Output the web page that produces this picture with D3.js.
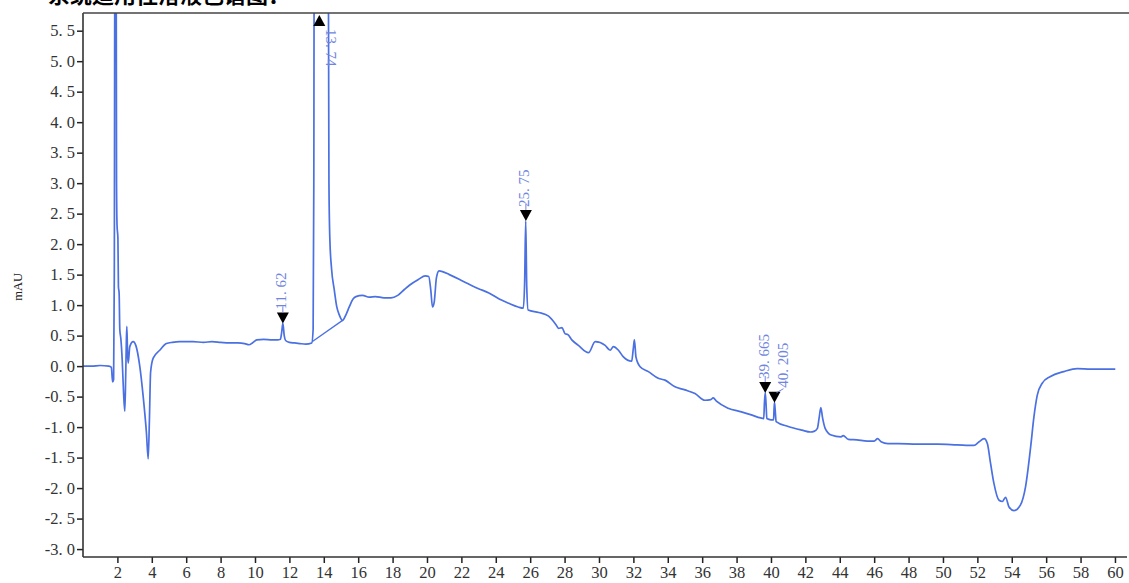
<!DOCTYPE html>
<html>
<head>
<meta charset="utf-8">
<script src="https://cdn.jsdelivr.net/npm/d3@7/dist/d3.min.js"></script>
<style>
html,body{margin:0;padding:0;background:#fff;}
svg{display:block;}
</style>
</head>
<body>
<div id="chart"></div>
<script>
// ---- data ----
const rt = [0,0.5,1.0,1.5,1.65,1.72,1.78,1.82,1.86,1.92,1.95,1.98,2.03,2.06,2.1,2.14,2.2,2.28,2.36,2.43,2.48,2.52,2.55,2.59,2.63,2.72,2.92,3.07,3.30,3.50,3.69,3.79,3.86,3.93,4.08,4.46,4.85,5.2,5.62,6.4,7.0,7.5,8.0,8.5,9.0,9.4,9.65,9.85,10.1,10.5,11.0,11.3,11.48,11.55,11.62,11.70,11.78,12.0,12.3,12.6,12.95,13.3,13.38,13.42,13.45,14.25,14.30,14.35,14.45,14.61,14.75,14.9,15.09,15.3,15.48,15.7,15.87,16.25,16.64,17.0,17.5,17.9,18.3,18.7,19.0,19.5,19.9,20.1,20.22,20.32,20.42,20.55,20.7,20.9,21.3,21.9,22.4,23.0,23.6,24.2,24.75,25.3,25.6,25.68,25.74,25.80,25.88,26.5,27.07,27.5,27.65,27.85,28.03,28.18,28.42,28.8,29.39,29.78,30.36,30.65,30.84,31.13,31.42,31.9,32.0,32.06,32.15,32.39,32.87,33.45,33.84,34.42,35.0,35.58,36.16,36.5,36.64,36.85,37.51,38.28,38.86,39.4,39.58,39.62,39.665,39.71,39.76,40.0,40.15,40.18,40.205,40.24,40.3,41.0,41.8,42.3,42.5,42.7,42.8,42.9,43.0,43.15,43.5,44.07,44.2,44.5,45.0,45.6,46.0,46.2,46.4,46.8,47.4,48.5,49.7,50.8,51.8,52.1,52.39,52.58,52.77,52.96,53.26,53.45,53.64,53.84,54.13,54.5,54.80,55.1,55.29,55.48,55.77,56.25,57.03,57.8,58.6,60.02];
const signal = [0,0,0.01,0,-0.02,-0.26,-0.22,1.5,8,8,3.0,2.3,2.1,1.3,1.2,0.6,0.45,0.1,-0.45,-0.74,-0.2,0.4,0.65,0.2,0.05,0.32,0.40,0.34,0.0,-0.5,-1.1,-1.52,-0.9,-0.1,0.13,0.26,0.37,0.39,0.40,0.40,0.39,0.40,0.39,0.38,0.38,0.37,0.35,0.38,0.43,0.44,0.43,0.43,0.44,0.55,0.70,0.50,0.42,0.39,0.38,0.37,0.36,0.38,0.6,3.0,8,8,3.0,2.1,1.6,1.25,0.98,0.84,0.75,0.85,0.97,1.1,1.14,1.16,1.13,1.14,1.12,1.12,1.16,1.26,1.33,1.42,1.48,1.47,1.25,0.97,1.05,1.45,1.56,1.55,1.5,1.42,1.35,1.27,1.2,1.1,1.03,0.97,0.95,1.4,2.38,1.3,0.92,0.88,0.82,0.68,0.62,0.63,0.53,0.52,0.43,0.34,0.22,0.40,0.34,0.26,0.32,0.26,0.15,0.08,0.3,0.43,0.15,-0.01,-0.09,-0.20,-0.23,-0.34,-0.39,-0.45,-0.56,-0.55,-0.52,-0.58,-0.69,-0.75,-0.80,-0.85,-0.86,-0.6,-0.44,-0.6,-0.86,-0.88,-0.88,-0.7,-0.6,-0.7,-0.91,-0.99,-1.05,-1.08,-1.07,-1.02,-0.85,-0.68,-0.85,-1.02,-1.13,-1.16,-1.14,-1.2,-1.21,-1.23,-1.23,-1.19,-1.24,-1.27,-1.27,-1.28,-1.28,-1.29,-1.30,-1.24,-1.19,-1.27,-1.60,-1.92,-2.20,-2.22,-2.15,-2.31,-2.37,-2.28,-1.98,-1.32,-0.83,-0.48,-0.28,-0.17,-0.09,-0.04,-0.05,-0.05];

// integration baseline under the 13.74 peak
const baseT = [13.32, 15.09];
const baseV = [0.40, 0.75];

// peak annotations
const peakTimes = [11.62, 13.74, 25.75, 39.665, 40.205];
const peakLabels = ["11. 62", "13. 74", "25. 75", "39. 665", "40. 205"];
const peakApex = [0.70, null, 2.38, -0.44, -0.60];

const xTicks = [2,4,6,8,10,12,14,16,18,20,22,24,26,28,30,32,34,36,38,40,42,44,46,48,50,52,54,56,58,60];
const yTicks = [-3.0,-2.5,-2.0,-1.5,-1.0,-0.5,0.0,0.5,1.0,1.5,2.0,2.5,3.0,3.5,4.0,4.5,5.0,5.5];
const yTickLabels = ["-3. 0","-2. 5","-2. 0","-1. 5","-1. 0","-0. 5","0. 0","0. 5","1. 0","1. 5","2. 0","2. 5","3. 0","3. 5","4. 0","4. 5","5. 0","5. 5"];
const yLabel = "mAU";
const titleText = "系统适用性溶液色谱图：";

// ---- drawing ----
const W = 1129, H = 583;
const L = 83, R = 1127, T = 13, B = 557;
const lineColor = "#4a70e2";
const labelColor = "#6f85e0";
const serif = "'Liberation Serif','DejaVu Serif',serif";

const svg = d3.select("#chart").append("svg").attr("width", W).attr("height", H);
svg.append("rect").attr("width", W).attr("height", H).attr("fill", "#fff");

const x = d3.scaleLinear().domain([0, 60.7]).range([L, R]);
const y = d3.scaleLinear().domain([-3.13, 5.79]).range([B, T]);

// title (clipped at top, as in the source)
svg.append("text").attr("x", 48).attr("y", 3)
  .attr("font-family", "'Noto Sans CJK SC',sans-serif").attr("font-size", 22)
  .attr("font-weight", "bold").attr("fill", "#000").text(titleText);

svg.append("clipPath").attr("id", "clip").append("rect")
  .attr("x", L).attr("y", T).attr("width", R - L).attr("height", B - T);

const g = svg.append("g").attr("clip-path", "url(#clip)");
const pts = rt.map((t, i) => [t, signal[i]]);
g.append("path").datum(pts).attr("d", d3.line().x(d => x(d[0])).y(d => y(d[1])).curve(d3.curveMonotoneX))
  .attr("fill", "none").attr("stroke", lineColor).attr("stroke-width", 1.7).attr("stroke-linejoin", "round");
g.append("path").datum(baseT.map((t, i) => [t, baseV[i]]))
  .attr("d", d3.line().x(d => x(d[0])).y(d => y(d[1])))
  .attr("fill", "none").attr("stroke", lineColor).attr("stroke-width", 1.3);

// axes
const yAxis = d3.axisLeft(y).tickValues(yTicks).tickSize(6).tickPadding(2)
  .tickFormat((d, i) => yTickLabels[i]);
const ya = svg.append("g").attr("transform", `translate(${L},0)`).call(yAxis);
const xAxis = d3.axisBottom(x).tickValues(xTicks).tickSize(6).tickPadding(3).tickFormat(d => d);
const xa = svg.append("g").attr("transform", `translate(0,${B})`).call(xAxis);
[ya, xa].forEach(a => {
  a.select(".domain").remove();
  a.selectAll(".tick line").attr("stroke", "#222").attr("stroke-width", 1.5);
  a.selectAll(".tick text").attr("font-family", serif).attr("font-size", 16.5).attr("fill", "#333");
});
// frame lines
svg.append("line").attr("x1", L).attr("x2", L).attr("y1", T).attr("y2", B).attr("stroke", "#333").attr("stroke-width", 1.6);
svg.append("line").attr("x1", L).attr("x2", R).attr("y1", B).attr("y2", B).attr("stroke", "#333").attr("stroke-width", 1.6);
svg.append("line").attr("x1", L).attr("x2", W).attr("y1", T).attr("y2", T).attr("stroke", "#444").attr("stroke-width", 1.4);

svg.append("text").attr("transform", `translate(22,${y(1.3)}) rotate(-90)`)
  .attr("text-anchor", "middle").attr("font-family", serif).attr("font-size", 12.5)
  .attr("fill", "#222").text(yLabel);

// peak markers
const ann = svg.append("g");
peakTimes.forEach((t, i) => {
  const px = x(t);
  if (peakApex[i] === null) {
    const top = T + 2;
    ann.append("path").attr("d", `M${px},${top} L${px - 6},${top + 11} L${px + 6},${top + 11} Z`).attr("fill", "#000");
    ann.append("text").attr("transform", `translate(${px + 10},${top + 14}) rotate(90)`)
      .attr("dominant-baseline", "middle").attr("font-family", serif).attr("font-size", 15)
      .attr("fill", labelColor).text(peakLabels[i]);
  } else {
    const py = y(peakApex[i]);
    ann.append("path").attr("d", `M${px},${py} L${px - 6},${py - 11} L${px + 6},${py - 11} Z`).attr("fill", "#000");
    let tx = px, ty = py - 14;
    if (i === 4) {
      tx = px + 10; ty = py - 15;
      ann.append("line").attr("x1", px + 2).attr("y1", py - 10).attr("x2", tx - 1).attr("y2", ty + 1)
        .attr("stroke", labelColor).attr("stroke-width", 1);
    } else {
      ann.append("line").attr("x1", px).attr("x2", px).attr("y1", py - 11).attr("y2", py - 17)
        .attr("stroke", labelColor).attr("stroke-width", 1);
    }
    ann.append("text").attr("transform", `translate(${tx},${ty}) rotate(-90)`)
      .attr("dominant-baseline", "middle").attr("font-family", serif).attr("font-size", 15)
      .attr("fill", labelColor).text(peakLabels[i]);
  }
});
</script>
</body>
</html>
